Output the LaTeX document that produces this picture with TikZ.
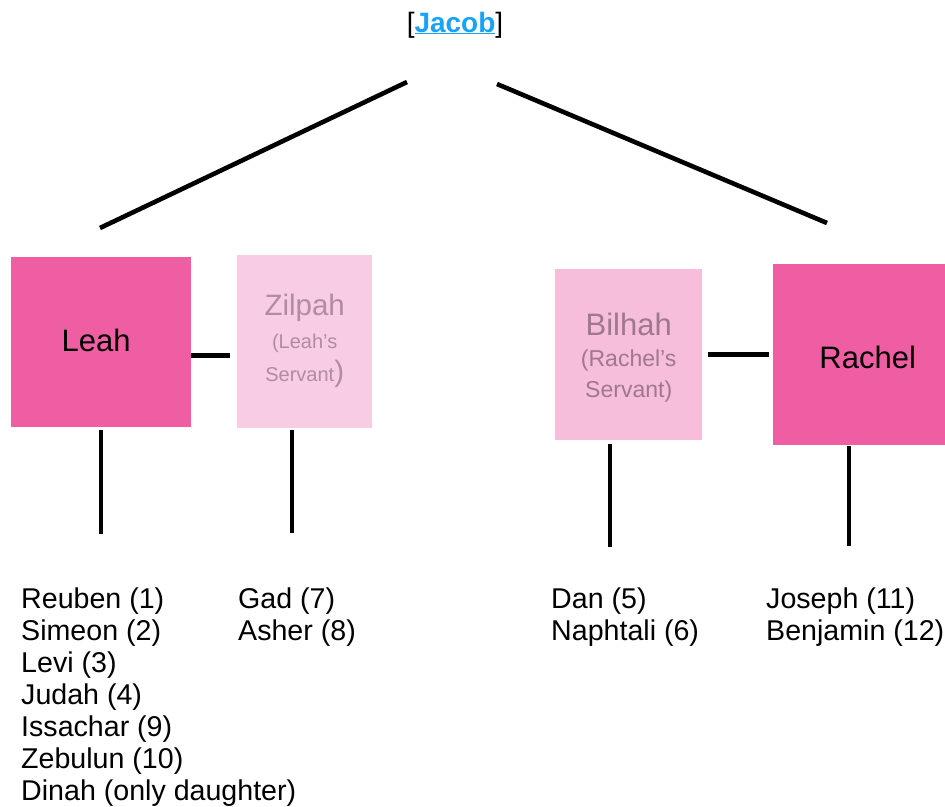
\documentclass[tikz,border=0pt]{standalone}
\usepackage{fontspec}
\setmainfont{Liberation Sans}
\definecolor{wifepink}{RGB}{239,94,163}
\definecolor{zilpahpink}{RGB}{248,205,227}
\definecolor{bilhahpink}{RGB}{247,190,220}
\definecolor{zilpahtext}{RGB}{176,140,158}
\definecolor{bilhahtext}{RGB}{158,120,140}
\definecolor{jacobblue}{RGB}{26,163,245}
\tikzset{
	wife/.style={fill=wifepink, anchor=north west, inner sep=0pt},
	servant/.style={anchor=north west, inner sep=0pt},
	namefont/.style={font=\fontsize{31}{33}\selectfont, text=black},
	branch/.style={line width=4.6pt},
	sons/.style={anchor=north west, inner sep=0pt, align=left, font=\fontsize{28.6}{32}\selectfont}
}
\begin{document}
\begin{tikzpicture}[x=1pt, y=-1pt]
			\useasboundingbox (0,0) rectangle (945,806);
			
			%Jacob on top
			\node[anchor=base, inner sep=0pt, font=\fontsize{28}{30}\selectfont] (jacob) at (455,32) {[{\color{jacobblue}\underline{\textbf{Jacob}}}]};
			\coordinate (jacobL) at (407,82);
			\coordinate (jacobR) at (497,84);
			\coordinate (leahTop) at (100,228);
			\coordinate (rachelTop) at (827,223);
			\draw[branch] (jacobL) -- (leahTop);
			\draw[branch] (jacobR) -- (rachelTop);
			
			%Leah and Zilpah
			\node[wife, minimum width=180pt, minimum height=170pt, label={[namefont, xshift=-5pt, yshift=1.5pt]center:Leah}] (leah) at (11,257) {};
			\node[servant, fill=zilpahpink, minimum width=135pt, minimum height=173pt,
				label={[align=center, text=zilpahtext, font=\fontsize{20}{33}\selectfont, yshift=1pt]center:{\fontsize{29.5}{33}\selectfont Zilpah}\\(Leah’s\\Servant{\fontsize{29.5}{33}\selectfont)}}] (zilpah) at (237,255) {};
			\draw[branch, shorten >=7pt] ([yshift=-13pt]leah.east) -- ([yshift=-13pt]leah.east -| zilpah.west);
			
			%Bilhah and Rachel
			\node[servant, fill=bilhahpink, minimum width=147pt, minimum height=171pt,
				label={[align=center, text=bilhahtext, font=\fontsize{23}{31}\selectfont, yshift=-3pt]center:{\fontsize{31}{31}\selectfont Bilhah}\\(Rachel’s\\Servant)}] (bilhah) at (555,269) {};
			\node[wife, minimum width=172pt, minimum height=181pt, label={[namefont, xshift=8.5pt, yshift=-2.5pt]center:Rachel}] (rachel) at (773,264) {};
			\draw[branch, shorten <=6pt, shorten >=4pt] (bilhah.east) -- (bilhah.east -| rachel.west);
			
			%Sons
			\node[sons] (leahsons) at (21,587.2) {Reuben (1)\\Simeon (2)\\Levi (3)\\Judah (4)\\Issachar (9)\\Zebulun (10)\\Dinah (only daughter)};
			\node[sons] (zilpahsons) at (238,587.2) {Gad (7)\\Asher (8)};
			\node[sons] (bilhahsons) at (551,587.2) {Dan (5)\\Naphtali (6)};
			\node[sons] (rachelsons) at (766,587.2) {Joseph (11)\\Benjamin (12)};
			
			\coordinate (leahEnd) at (101,534);
			\coordinate (zilpahEnd) at (292,533);
			\coordinate (bilhahEnd) at (610,547);
			\coordinate (rachelEnd) at (849,546);
			\draw[branch, shorten <=3pt] (leah.south -| leahEnd) -- (leahEnd);
			\draw[branch, shorten <=2pt] (zilpah.south -| zilpahEnd) -- (zilpahEnd);
			\draw[branch, shorten <=4pt] (bilhah.south -| bilhahEnd) -- (bilhahEnd);
			\draw[branch, shorten <=1pt] (rachel.south -| rachelEnd) -- (rachelEnd);
		\end{tikzpicture}
\end{document}
